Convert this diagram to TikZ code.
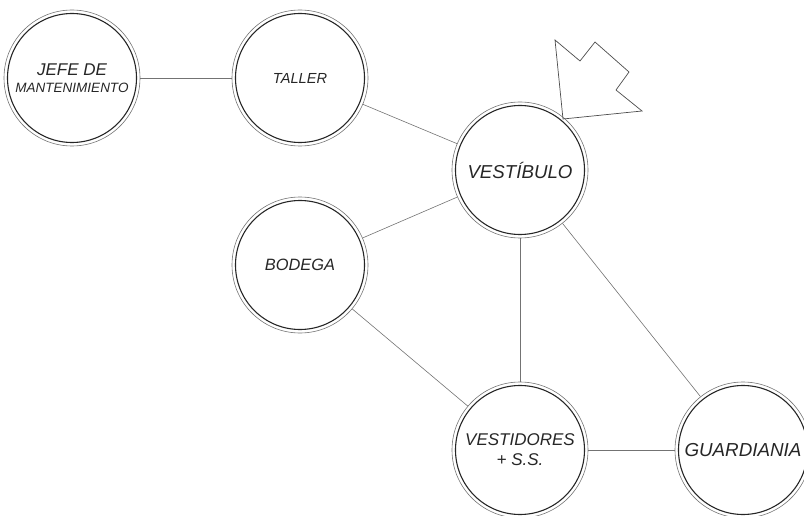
\documentclass[tikz,border=0pt]{standalone}
\usepackage{fontspec}
\setsansfont{Liberation Sans}
\begin{document}
\begin{tikzpicture}[x=1pt,y=-1pt,
  room/.style={circle,minimum size=136pt,inner sep=0pt,draw=black!55,line width=0.6pt,font=\sffamily\itshape,align=center,text=black!85},
  link/.style={draw=black!55,line width=0.6pt}]
\useasboundingbox (0,0) rectangle (804,516);
\node[room,font=\sffamily\itshape\fontsize{17}{19}\selectfont] (jefe) at (72,78) {JEFE DE\\[-2pt]{\fontsize{13.5}{15}\selectfont MANTENIMIENTO}};
\node[room,font=\sffamily\itshape\fontsize{14.6}{16}\selectfont] (taller) at (300,78) {TALLER};
\node[room,font=\sffamily\itshape\fontsize{18.7}{20}\selectfont] (vest) at (520,170) {VESTÍBULO};
\node[room,font=\sffamily\itshape\fontsize{16.4}{18}\selectfont] (bodega) at (300,265) {BODEGA};
\node[room,font=\sffamily\itshape\fontsize{17}{20}\selectfont] (vestid) at (520,450) {VESTIDORES\\+ S.S.};
\node[room,font=\sffamily\itshape\fontsize{18.8}{20}\selectfont] (guard) at (743,450) {GUARDIANIA};
\foreach \n in {jefe,taller,vest,bodega,vestid,guard}
  \draw[black!85,line width=1.1pt] (\n.center) circle (64.5);
\draw[link] (jefe) -- (taller);
\draw[link] (taller) -- (vest);
\draw[link] (vest) -- (bodega);
\draw[link] (vest) -- (vestid);
\draw[link] (vest) -- (guard);
\draw[link] (bodega) -- (vestid);
\draw[link] (vestid) -- (guard);
\draw[black!70,line width=0.7pt,line join=miter] (555,40) -- (580,61) -- (595,42) -- (629,72) -- (616,90) -- (642,111) -- (563,119) -- cycle;
\end{tikzpicture}
\end{document}
